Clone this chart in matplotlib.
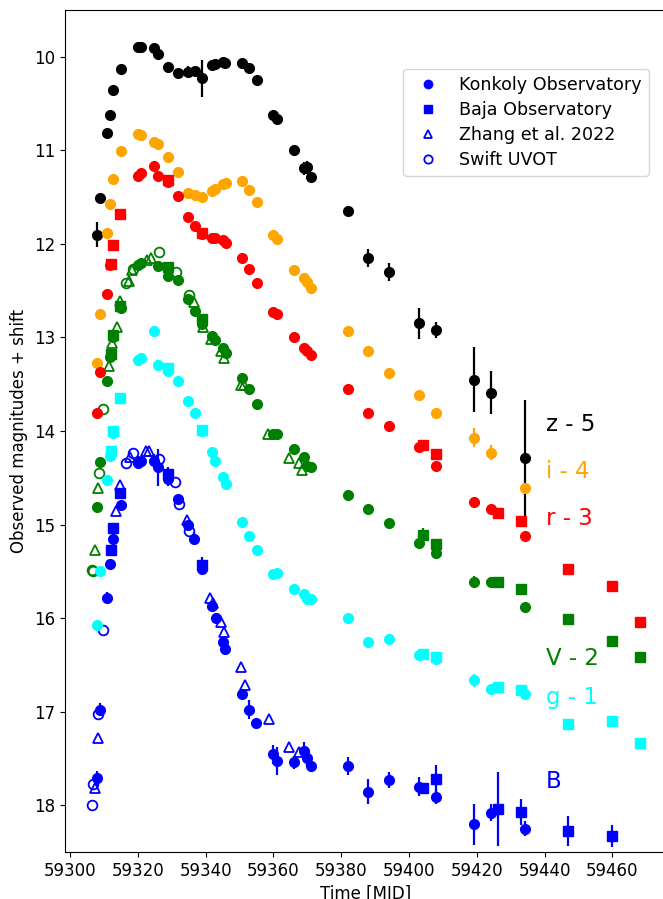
import matplotlib
matplotlib.use("Agg")
import matplotlib.pyplot as plt
from matplotlib.lines import Line2D

# plotted values are already magnitude + shift
z_kon_t = [59307.9, 59308.8, 59310.9, 59311.8, 59312.8, 59314.9, 59319.9, 59320.9, 59324.8, 59325.9,
           59328.8, 59331.7, 59334.7, 59336.9, 59338.8, 59341.8, 59342.8, 59345.0, 59345.8, 59350.8,
           59352.9, 59355.0, 59359.9, 59360.9, 59366.0, 59368.9, 59370.0, 59371.0, 59381.9, 59388.0,
           59394.0, 59403.0, 59408.0, 59419.2, 59424.1, 59434.2]
z_kon_m = [11.90, 11.51, 10.81, 10.62, 10.36, 10.13, 9.90, 9.90, 9.91, 9.97,
           10.11, 10.17, 10.16, 10.15, 10.23, 10.09, 10.08, 10.06, 10.07, 10.07,
           10.12, 10.25, 10.62, 10.67, 11.00, 11.19, 11.18, 11.28, 11.65, 12.15,
           12.30, 12.85, 12.92, 13.45, 13.59, 14.29]
z_kon_e = [0.13, 0.03, 0.02, 0.02, 0.02, 0.02, 0.02, 0.02, 0.02, 0.02,
           0.02, 0.02, 0.06, 0.05, 0.20, 0.02, 0.02, 0.02, 0.02, 0.02,
           0.02, 0.02, 0.02, 0.03, 0.06, 0.07, 0.07, 0.05, 0.05, 0.10,
           0.10, 0.17, 0.09, 0.35, 0.23, 0.62]

i_kon_t = [59307.9, 59308.8, 59310.8, 59311.8, 59312.8, 59314.9, 59319.9, 59320.9, 59324.8, 59325.9,
           59328.8, 59331.7, 59334.7, 59336.8, 59338.8, 59341.8, 59342.8, 59345.0, 59345.9, 59350.8,
           59352.9, 59355.0, 59359.9, 59360.9, 59366.0, 59368.9, 59370.0, 59371.0, 59381.9, 59388.0,
           59394.0, 59403.0, 59408.0, 59419.2, 59424.1, 59434.2]
i_kon_m = [13.27, 12.75, 11.88, 11.57, 11.31, 11.01, 10.83, 10.835, 10.91, 10.93,
           11.07, 11.23, 11.46, 11.48, 11.50, 11.44, 11.41, 11.36, 11.35, 11.33,
           11.42, 11.55, 11.91, 11.95, 12.28, 12.36, 12.41, 12.47, 12.93, 13.14,
           13.38, 13.62, 13.81, 14.07, 14.23, 14.61]
i_kon_e = [0.05, 0.02, 0.02, 0.02, 0.02, 0.02, 0.02, 0.02, 0.02, 0.02,
           0.02, 0.02, 0.02, 0.02, 0.02, 0.02, 0.02, 0.02, 0.02, 0.02,
           0.02, 0.02, 0.02, 0.02, 0.02, 0.02, 0.02, 0.02, 0.02, 0.02,
           0.02, 0.02, 0.02, 0.10, 0.08, 0.03]

r_kon_t = [59307.9, 59308.8, 59310.8, 59311.8, 59319.9, 59320.9, 59324.8, 59325.9, 59328.8, 59331.7,
           59334.7, 59336.8, 59338.8, 59341.8, 59342.8, 59345.0, 59345.9, 59350.8, 59352.9, 59355.0,
           59359.9, 59360.9, 59366.0, 59368.9, 59370.0, 59371.0, 59381.9, 59388.0, 59394.0, 59403.0,
           59408.0, 59419.2, 59424.1, 59434.2]
r_kon_m = [13.81, 13.37, 12.535, 12.23, 11.27, 11.24, 11.17, 11.27, 11.34, 11.49,
           11.71, 11.81, 11.89, 11.935, 11.94, 11.96, 11.99, 12.15, 12.27, 12.42,
           12.73, 12.75, 13.00, 13.11, 13.15, 13.185, 13.55, 13.81, 13.945, 14.17,
           14.37, 14.76, 14.83, 15.12]
r_kon_e = [0.02] * 31 + [0.05, 0.02, 0.02]

baja_t = [59312.0, 59312.8, 59314.8, 59328.8, 59338.8, 59404.0, 59408.0, 59426.1, 59433.0, 59447.0,
          59459.9, 59468.0]
r_baja_m = [12.21, 12.01, 11.68, 11.32, 11.88, 14.15, 14.25, 14.88, 14.96, 15.47, 15.66, 16.04]
r_baja_e = [0.03, 0.03, 0.03, 0.03, 0.03, 0.03, 0.03, 0.03, 0.03, 0.02, 0.02, 0.02]

V_kon_t = [59307.9, 59308.8, 59310.8, 59311.8, 59312.8, 59314.9, 59319.9, 59320.9, 59325.9, 59328.8,
           59331.7, 59334.7, 59336.8, 59338.8, 59341.8, 59342.8, 59345.0, 59345.9, 59350.8, 59352.9,
           59355.0, 59359.9, 59360.9, 59366.0, 59368.9, 59370.0, 59371.0, 59381.9, 59388.0, 59394.0,
           59403.0, 59408.0, 59419.2, 59424.1, 59434.2]
V_kon_m = [14.81, 14.33, 13.47, 13.21, 13.00, 12.68, 12.23, 12.20, 12.24, 12.34,
           12.39, 12.59, 12.72, 12.86, 12.98, 13.03, 13.11, 13.17, 13.43, 13.55,
           13.71, 14.03, 14.03, 14.19, 14.28, 14.37, 14.38, 14.68, 14.835, 14.985,
           15.20, 15.30, 15.61, 15.615, 15.88]
V_kon_e = [0.04] + [0.02] * 22 + [0.03] + [0.02] * 8 + [0.06, 0.02, 0.02]
V_baja_m = [13.18, 12.97, 12.66, 12.25, 12.80, 15.11, 15.21, 15.615, 15.69, 16.01, 16.24, 16.42]
V_baja_e = [0.03, 0.03, 0.04, 0.04, 0.04, 0.07, 0.03, 0.05, 0.03, 0.05, 0.03, 0.05]
V_zhang_t = [59307.3, 59308.3, 59311.5, 59312.5, 59313.8, 59314.8, 59317.4, 59318.2, 59322.8, 59323.8,
             59336.7, 59339.1, 59341.6, 59344.4, 59345.5, 59350.3, 59351.3, 59358.4, 59364.6, 59367.4,
             59368.4]
V_zhang_m = [15.27, 14.61, 13.31, 13.06, 12.885, 12.61, 12.40, 12.28, 12.17, 12.15,
             12.62, 12.89, 13.02, 13.15, 13.22, 13.51, 13.51, 14.03, 14.285, 14.345,
             14.42]
V_swift_t = [59306.6, 59306.9, 59308.4, 59309.8, 59316.4, 59318.6, 59326.2, 59331.1, 59335.1]
V_swift_m = [15.49, 15.50, 14.45, 13.77, 12.42, 12.27, 12.09, 12.30, 12.55]

g_kon_t = [59307.9, 59308.8, 59310.8, 59311.8, 59312.8, 59319.9, 59320.9, 59324.8, 59325.9, 59328.8,
           59331.7, 59334.7, 59336.8, 59338.8, 59341.8, 59342.8, 59345.0, 59345.9, 59350.8, 59352.9,
           59355.0, 59359.9, 59360.9, 59366.0, 59368.9, 59370.0, 59371.0, 59381.9, 59388.0, 59394.0,
           59403.0, 59408.0, 59419.2, 59424.1, 59434.2]
g_kon_m = [16.07, 15.50, 14.525, 14.27, 14.02, 13.24, 13.22, 12.935, 13.29, 13.36,
           13.47, 13.68, 13.81, 14.00, 14.22, 14.32, 14.49, 14.57, 14.97, 15.12,
           15.27, 15.53, 15.52, 15.69, 15.74, 15.80, 15.795, 16.00, 16.255, 16.22,
           16.39, 16.44, 16.665, 16.76, 16.81]
g_kon_e = [0.02] * 7 + [0.06, 0.05] + [0.02] * 12 + [0.04, 0.04] + [0.02] * 5 + [0.04] + [0.02] * 3 + [0.07, 0.02, 0.02]
g_baja_m = [14.21, 14.00, 13.65, 13.33, 13.99, 16.38, 16.42, 16.74, 16.77, 17.13, 17.105, 17.33]
g_baja_e = [0.03, 0.03, 0.03, 0.03, 0.03, 0.02, 0.04, 0.02, 0.03, 0.02, 0.02, 0.02]

B_kon_t = [59307.9, 59308.8, 59310.8, 59311.8, 59312.8, 59314.9, 59319.9, 59320.9, 59324.7, 59325.8,
           59329.0, 59331.7, 59334.7, 59336.7, 59338.8, 59341.9, 59342.9, 59345.0, 59345.8, 59350.8,
           59352.9, 59354.9, 59359.9, 59361.0, 59366.0, 59368.9, 59370.0, 59371.0, 59381.9, 59388.0,
           59394.0, 59403.0, 59408.0, 59419.2, 59424.1, 59434.2]
B_kon_m = [17.71, 16.98, 15.78, 15.42, 15.15, 14.79, 14.34, 14.32, 14.32, 14.39,
           14.51, 14.73, 15.00, 15.15, 15.48, 15.87, 16.00, 16.25, 16.33, 16.81,
           16.98, 17.12, 17.455, 17.53, 17.54, 17.42, 17.49, 17.58, 17.58, 17.855,
           17.73, 17.80, 17.91, 18.205, 18.08, 18.25]
B_kon_e = [0.08, 0.07, 0.06, 0.05, 0.05, 0.03, 0.07, 0.03, 0.07, 0.20,
           0.08, 0.05, 0.04, 0.07, 0.06, 0.03, 0.05, 0.05, 0.05, 0.05,
           0.10, 0.05, 0.10, 0.15, 0.07, 0.10, 0.10, 0.06, 0.10, 0.13,
           0.09, 0.10, 0.08, 0.22, 0.09, 0.08]
B_baja_t = [59312.0, 59312.8, 59314.8, 59328.8, 59338.9, 59404.1, 59408.0, 59426.1, 59433.0, 59447.0,
            59459.9]
B_baja_m = [15.27, 15.04, 14.66, 14.46, 15.43, 17.82, 17.72, 18.04, 18.07, 18.28, 18.33]
B_baja_e = [0.05, 0.05, 0.05, 0.08, 0.08, 0.03, 0.15, 0.40, 0.14, 0.16, 0.12]
B_zhang_t = [59307.3, 59308.3, 59313.5, 59314.8, 59317.7, 59322.4, 59323.3, 59334.5, 59341.3, 59342.2,
             59344.4, 59345.5, 59350.5, 59351.5, 59358.6, 59364.6, 59367.4]
B_zhang_m = [17.82, 17.28, 14.86, 14.58, 14.28, 14.21, 14.21, 14.95, 15.79, 15.84,
             16.04, 16.15, 16.52, 16.72, 17.08, 17.38, 17.43]
B_swift_t = [59306.6, 59306.9, 59308.3, 59309.7, 59316.4, 59318.7, 59326.3, 59331.0, 59332.0, 59335.0]
B_swift_m = [18.00, 17.77, 17.03, 16.13, 14.34, 14.23, 14.30, 14.55, 14.78, 15.07]

band_labels = ["z - 5", "i - 4", "r - 3", "V - 2", "g - 1", "B"]
band_colors = ["black", "orange", "red", "green", "cyan", "blue"]
label_y = [13.93, 14.43, 14.93, 16.43, 16.85, 17.75]

MS = 7


def filled(ax, t, m, e, marker, color):
    ax.errorbar(t, m, yerr=e, fmt=marker, color=color, ms=MS, mec=color, mfc=color,
                elinewidth=1.6, capsize=0)


def hollow(ax, t, m, marker, color):
    ax.plot(t, m, ls="none", marker=marker, ms=MS, mec=color, mfc="none", mew=1.3)


fig = plt.figure(figsize=(6.63, 8.99), dpi=100)
# right spine sits just past the image edge, as in the original crop
ax = fig.add_axes([65 / 663, 47 / 899, 602 / 663, 842 / 899])

filled(ax, z_kon_t, z_kon_m, z_kon_e, "o", "black")
filled(ax, i_kon_t, i_kon_m, i_kon_e, "o", "orange")
filled(ax, r_kon_t, r_kon_m, r_kon_e, "o", "red")
filled(ax, baja_t, r_baja_m, r_baja_e, "s", "red")
filled(ax, V_kon_t, V_kon_m, V_kon_e, "o", "green")
filled(ax, baja_t, V_baja_m, V_baja_e, "s", "green")
hollow(ax, V_zhang_t, V_zhang_m, "^", "green")
hollow(ax, V_swift_t, V_swift_m, "o", "green")
filled(ax, g_kon_t, g_kon_m, g_kon_e, "o", "cyan")
filled(ax, baja_t, g_baja_m, g_baja_e, "s", "cyan")
filled(ax, B_kon_t, B_kon_m, B_kon_e, "o", "blue")
filled(ax, B_baja_t, B_baja_m, B_baja_e, "s", "blue")
hollow(ax, B_zhang_t, B_zhang_m, "^", "blue")
hollow(ax, B_swift_t, B_swift_m, "o", "blue")

for lab, col, y in zip(band_labels, band_colors, label_y):
    ax.text(59440.3, y, lab, color=col, fontsize=16.5, ha="left", va="center")

handles = [
    Line2D([], [], ls="none", marker="o", color="blue", ms=6),
    Line2D([], [], ls="none", marker="s", color="blue", ms=6),
    Line2D([], [], ls="none", marker="^", mec="blue", mfc="none", mew=1.3, ms=6),
    Line2D([], [], ls="none", marker="o", mec="blue", mfc="none", mew=1.3, ms=6),
]
ax.legend(handles, ["Konkoly Observatory", "Baja Observatory", "Zhang et al. 2022", "Swift UVOT"],
          loc="upper right", bbox_to_anchor=(0.970, 0.930), borderaxespad=0, fontsize=12.6,
          labelspacing=0.4)

ax.set_xlim(59298.5, 59476.1)
ax.set_ylim(18.5, 9.5)
ax.set_xticks(range(59300, 59461, 20))
ax.ticklabel_format(axis="x", useOffset=False, style="plain")
ax.tick_params(labelsize=12)
ax.set_xlabel("Time [MJD]", fontsize=12)
ax.set_ylabel("Observed magnitudes + shift", fontsize=12)

fig.savefig("out.png", dpi=100)
